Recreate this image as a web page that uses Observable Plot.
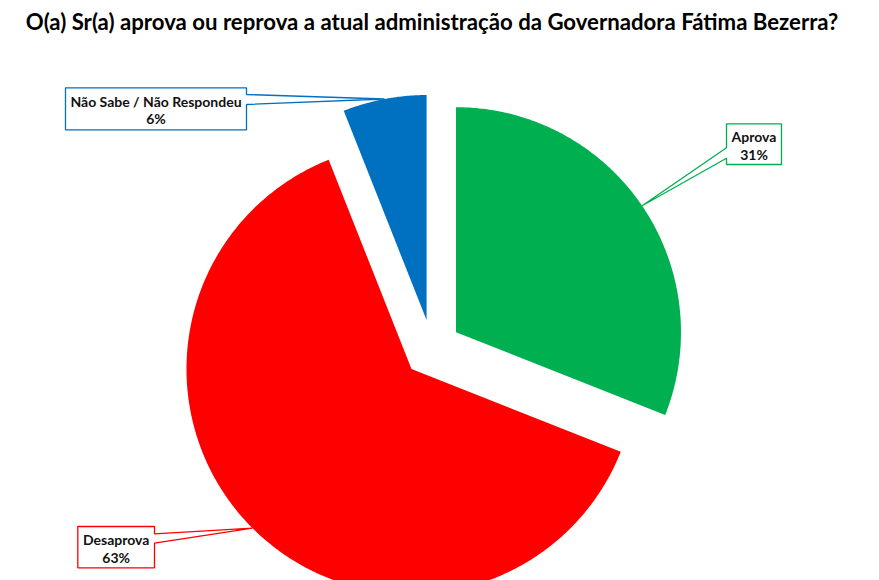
<!DOCTYPE html>
<html><head><meta charset="utf-8">
<script src="https://cdn.jsdelivr.net/npm/d3@7"></script>
<script src="https://cdn.jsdelivr.net/npm/@observablehq/plot@0.6"></script>
<style>
body{margin:0;background:#fff;}
#wrap{position:relative;width:879px;height:580px;overflow:hidden;background:#fff;}
#title{position:absolute;left:0;top:10px;width:864px;text-align:center;font:bold 22.2px Lato, sans-serif;line-height:24px;color:#000;white-space:nowrap;}
#chart{position:absolute;left:0;top:0;}
</style></head><body>
<div id="wrap"><div id="chart"></div><div id="title">O(a) Sr(a) aprova ou reprova a atual administração da Governadora Fátima Bezerra?</div></div>
<script>
// ---- data ----
const categories = ["Aprova", "Desaprova", "Não Sabe / Não Respondeu"];
const values = [31, 63, 6];
const colors = ["#00B050", "#FF0000", "#0070C0"];

// ---- layout (style) ----
const pie = {cx: 431.5, cy: 348, r: 225, explode: 29};
const callouts = {
  "Aprova": {x1: 726, x2: 781, y1: 123.3, y2: 164, side: "left", b1: 147.3, b2: 157.7},
  "Desaprova": {x1: 77.3, x2: 154, y1: 526, y2: 567.3, side: "right", b1: 533.3, b2: 542.7},
  "Não Sabe / Não Respondeu": {x1: 65, x2: 246, y1: 87.3, y2: 129.3, side: "right", b1: 94, b2: 104}
};

const total = d3.sum(values);
let acc = 0;
const slices = categories.map((c, i) => {
  const a0 = acc / total * 2 * Math.PI;
  acc += values[i];
  const a1 = acc / total * 2 * Math.PI;
  return {label: c, value: values[i], a0, a1, am: (a0 + a1) / 2};
});
const pt = (cx, cy, r, a) => [cx + r * Math.sin(a), cy - r * Math.cos(a)];

const slicePts = slices.flatMap(s => {
  const ox = pie.cx + pie.explode * Math.sin(s.am);
  const oy = pie.cy - pie.explode * Math.cos(s.am);
  s.tip = pt(ox, oy, pie.r, s.am);
  const n = Math.max(2, Math.ceil((s.a1 - s.a0) / (Math.PI / 360)));
  const arc = d3.range(n + 1).map(k => pt(ox, oy, pie.r, s.a0 + (s.a1 - s.a0) * k / n));
  return [[ox, oy], ...arc, [ox, oy]].map(([x, y]) => ({label: s.label, x, y}));
});

const calloutPts = slices.flatMap(s => {
  const c = callouts[s.label];
  const [tx, ty] = s.tip;
  let p;
  if (c.side === "right") {
    p = [[c.x1, c.y1], [c.x2, c.y1], [c.x2, c.b1], [tx, ty], [c.x2, c.b2], [c.x2, c.y2], [c.x1, c.y2], [c.x1, c.y1]];
  } else {
    p = [[c.x1, c.y1], [c.x2, c.y1], [c.x2, c.y2], [c.x1, c.y2], [c.x1, c.b2], [tx, ty], [c.x1, c.b1], [c.x1, c.y1]];
  }
  return p.map(([x, y]) => ({label: s.label, x, y}));
});

const labelData = slices.map(s => {
  const c = callouts[s.label];
  return {label: s.label, text: `${s.label}\n${s.value}%`, x: (c.x1 + c.x2) / 2, y: (c.y1 + c.y2) / 2 + 1};
});

const chart = Plot.plot({
  width: 879,
  height: 580,
  margin: 0,
  x: {domain: [0, 879], range: [0, 879], axis: null},
  y: {domain: [0, 580], range: [0, 580], axis: null},
  color: {domain: categories, range: colors},
  style: {background: "transparent"},
  marks: [
    Plot.line(slicePts, {x: "x", y: "y", z: "label", fill: "label", stroke: "none", curve: "linear"}),
    Plot.line(calloutPts, {x: "x", y: "y", z: "label", stroke: "label", fill: "white", strokeWidth: 1.3, strokeLinejoin: "miter", curve: "linear"}),
    Plot.text(labelData, {x: "x", y: "y", text: "text", fontSize: 14, fontWeight: "bold", fontFamily: "Lato, sans-serif", lineHeight: 1.27, fill: "#111", textAnchor: "middle"})
  ]
});
document.getElementById("chart").appendChild(chart);
</script>
</body></html>
